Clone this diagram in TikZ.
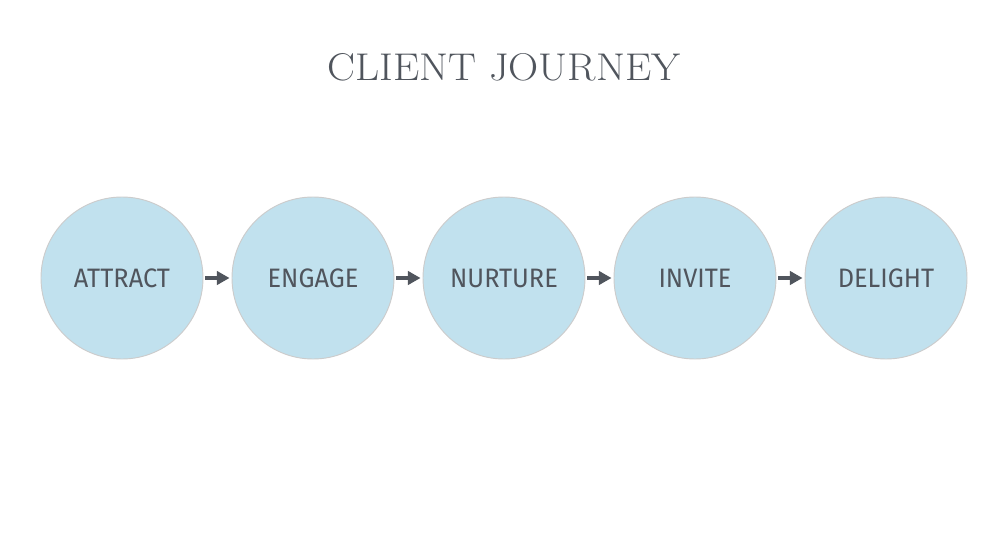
\documentclass[tikz,border=0pt]{standalone}
\usepackage{fontspec}
\newfontfamily\stagefont{Fira Sans}[FakeStretch=0.95]
\newfontfamily\titlefont{Latin Modern Roman}[FakeStretch=1.08]
\usetikzlibrary{arrows.meta}
\definecolor{stageblue}{HTML}{C1E1EE}
\definecolor{inkgrey}{HTML}{50555D}

\begin{document}
\begin{tikzpicture}[x=0.75pt,y=0.75pt,
    stage/.style={circle,fill=stageblue,draw=black!20,line width=0.7pt,
        minimum size=121.5pt,inner sep=0pt,text=inkgrey,
        font={\stagefont\fontsize{20}{24}\selectfont}},
    step arrow/.style={-{Triangle[length=9.5pt,width=10pt]},line width=2.5pt,
        draw=inkgrey,shorten >=1.5pt,shorten <=1.5pt}]

\useasboundingbox[fill=white] (0,0) rectangle (1000,537);

\node[text=inkgrey,font={\titlefont\fontsize{29}{32}\selectfont}] (title) at (504,470) {CLIENT JOURNEY};

%stages
\node[stage] (attract) at (122,259) {ATTRACT};
\node[stage] (engage) at (313,259) {ENGAGE};
\node[stage] (nurture) at (504,259) {NURTURE};
\node[stage] (invite) at (695,259) {\raisebox{-2pt}{INVITE}};
\node[stage] (delight) at (886,259) {DELIGHT};

\draw[step arrow] (attract.east) -- (engage.west);
\draw[step arrow] (engage.east) -- (nurture.west);
\draw[step arrow] (nurture.east) -- (invite.west);
\draw[step arrow] (invite.east) -- (delight.west);

\end{tikzpicture}
\end{document}
